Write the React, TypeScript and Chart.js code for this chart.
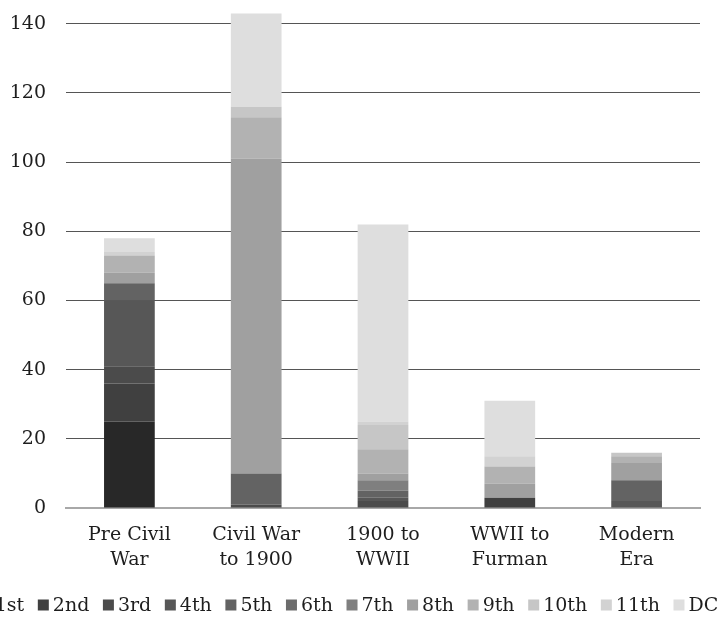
import React, { useEffect, useRef } from "react";
import { Chart, registerables } from "chart.js";

Chart.register(...registerables);

// Congressional service by era, stacked by number of terms
const categories: string[][] = [
  ["Pre Civil", "War"],
  ["Civil War", "to 1900"],
  ["1900 to", "WWII"],
  ["WWII to", "Furman"],
  ["Modern", "Era"],
];

const seriesNames = ["1st", "2nd", "3rd", "4th", "5th", "6th", "7th", "8th", "9th", "10th", "11th", "DC"];

const first = [25, 0, 0, 0, 0];
const second = [11, 0, 0, 3, 0];
const third = [5, 1, 2, 0, 0];
const fourth = [19, 0, 1, 0, 2];
const fifth = [5, 9, 2, 0, 6];
const sixth = [0, 0, 0, 0, 0];
const seventh = [0, 0, 3, 0, 0];
const eighth = [3, 91, 2, 4, 5];
const ninth = [5, 12, 7, 5, 2];
const tenth = [0, 3, 7, 0, 1];
const eleventh = [1, 0, 1, 3, 0];
const dc = [4, 27, 57, 16, 0];

const yTicks = [0, 20, 40, 60, 80, 100, 120, 140];

const seriesValues = [first, second, third, fourth, fifth, sixth, seventh, eighth, ninth, tenth, eleventh, dc];

const seriesColors = [
  "#282828", "#404040", "#4b4b4b", "#575757", "#636363", "#6c6c6c",
  "#7f7f7f", "#a0a0a0", "#b2b2b2", "#c6c6c6", "#d2d2d2", "#dedede",
];

const FONT = '"DejaVu Serif", serif';
const TEXT = "#1e1e1e";

// Single-row legend centred under the plot; it is allowed to run past the canvas edges.
const rowLegend = {
  id: "rowLegend",
  afterDraw(chart: any) {
    const ctx = chart.ctx as CanvasRenderingContext2D;
    const box = 11;
    const gap = 4;
    const spacing = 13.6;
    ctx.save();
    ctx.font = `19px ${FONT}`;
    ctx.textBaseline = "middle";
    const items = chart.data.datasets.map((ds: any) => ({
      label: ds.label as string,
      color: ds.backgroundColor as string,
      w: ctx.measureText(ds.label).width,
    }));
    const total =
      items.reduce((s: number, it: any) => s + box + gap + it.w, 0) + spacing * (items.length - 1);
    let x = 349 - total / 2;
    const y = 605;
    for (const it of items) {
      ctx.fillStyle = it.color;
      ctx.fillRect(x, y - box / 2, box, box);
      x += box + gap;
      ctx.fillStyle = TEXT;
      ctx.fillText(it.label, x, y + 1);
      x += it.w + spacing;
    }
    ctx.restore();
  },
};

export default function App() {
  const canvasRef = useRef<HTMLCanvasElement | null>(null);

  useEffect(() => {
    document.body.style.margin = "0";
    const canvas = canvasRef.current;
    if (!canvas) return;
    const chart = new Chart(canvas, {
      type: "bar",
      data: {
        labels: categories,
        datasets: seriesNames.map((name, i) => ({
          label: name,
          data: seriesValues[i],
          backgroundColor: seriesColors[i],
          borderWidth: 0,
          barPercentage: 0.4,
          categoryPercentage: 1,
        })),
      },
      options: {
        animation: false,
        responsive: false,
        maintainAspectRatio: false,
        layout: { padding: { top: 10, right: 24, bottom: 0, left: 0 } },
        plugins: {
          legend: { display: false },
          tooltip: { enabled: false },
        },
        scales: {
          x: {
            stacked: true,
            grid: { display: false },
            border: { display: true, color: "#a8a8a8", width: 2 },
            ticks: {
              color: TEXT,
              font: { family: FONT, size: 19, lineHeight: 1.3 },
              maxRotation: 0,
              autoSkip: false,
              padding: 7,
            },
            afterFit: (scale: any) => {
              scale.height = 110;
              scale.paddingLeft = 0;
              scale.paddingRight = 0;
            },
          },
          y: {
            stacked: true,
            min: 0,
            max: 144,
            afterBuildTicks: (scale: any) => {
              scale.ticks = yTicks.map((v) => ({ value: v }));
            },
            grid: { color: "#555555", lineWidth: 1, drawTicks: false },
            border: { display: false },
            ticks: {
              color: TEXT,
              font: { family: FONT, size: 19 },
              padding: 20,
            },
            afterFit: (scale: any) => {
              scale.width = 66;
              scale.paddingTop = 0;
              scale.paddingBottom = 0;
            },
          },
        },
      },
      plugins: [rowLegend],
    });
    return () => chart.destroy();
  }, []);

  return <canvas ref={canvasRef} width={724} height={618} style={{ display: "block" }} />;
}
